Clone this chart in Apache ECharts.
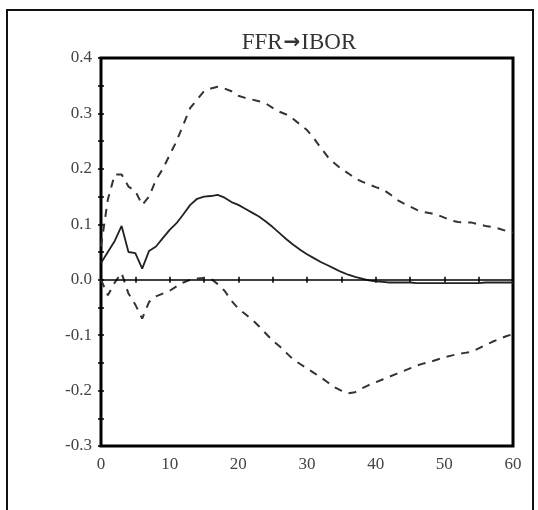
<!DOCTYPE html>
<html>
<head>
<meta charset="utf-8">
<script src="https://cdn.jsdelivr.net/npm/echarts@6/dist/echarts.min.js"></script>
<style>
html,body{margin:0;padding:0;background:#fff;}
#main{width:538px;height:510px;}
</style>
</head>
<body>
<div id="main"></div>
<script>
var titleFrom = 'FFR';
var titleArrow = '\u2192';
var titleTo = 'IBOR';
var horizons = [];
for (var i = 0; i <= 60; i++) horizons.push(i);
var xTicks = [0, 10, 20, 30, 40, 50, 60];
var yTicks = [-0.3, -0.2, -0.1, 0.0, 0.1, 0.2, 0.3, 0.4];

var response = [0.03,0.05,0.07,0.097,0.05,0.048,0.02,0.052,0.06,0.075,
 0.09,0.102,0.118,0.135,0.146,0.15,0.151,0.153,0.148,0.14,
 0.135,0.128,0.121,0.114,0.105,0.095,0.084,0.073,0.063,0.054,
 0.046,0.039,0.032,0.026,0.02,0.014,0.009,0.005,0.002,-0.001,
 -0.003,-0.004,-0.005,-0.005,-0.005,-0.005,-0.006,-0.006,-0.006,-0.006,
 -0.006,-0.006,-0.006,-0.006,-0.006,-0.006,-0.005,-0.005,-0.005,-0.005,-0.005];

var upperBand = [0.06,0.145,0.19,0.19,0.168,0.16,0.135,0.15,0.18,0.2,
 0.225,0.25,0.28,0.31,0.325,0.34,0.345,0.348,0.345,0.34,
 0.332,0.328,0.325,0.322,0.318,0.31,0.303,0.298,0.29,0.28,
 0.27,0.255,0.238,0.222,0.21,0.2,0.192,0.183,0.177,0.172,
 0.167,0.163,0.155,0.145,0.138,0.132,0.126,0.122,0.12,0.117,
 0.112,0.107,0.104,0.103,0.103,0.1,0.097,0.095,0.092,0.088,0.085];

var lowerBand = [0.0,-0.028,-0.005,0.012,-0.025,-0.045,-0.07,-0.04,-0.03,-0.025,
 -0.02,-0.012,-0.005,0.0,0.002,0.003,0.002,-0.008,-0.02,-0.038,
 -0.052,-0.062,-0.072,-0.084,-0.097,-0.11,-0.12,-0.132,-0.144,-0.152,
 -0.16,-0.168,-0.176,-0.185,-0.194,-0.2,-0.205,-0.203,-0.196,-0.19,
 -0.185,-0.18,-0.175,-0.17,-0.165,-0.16,-0.155,-0.151,-0.148,-0.144,
 -0.14,-0.137,-0.134,-0.132,-0.13,-0.124,-0.118,-0.112,-0.107,-0.102,-0.098];

function pairs(arr){ return arr.map(function(v,i){ return [horizons[i], v]; }); }

var chart = echarts.init(document.getElementById('main'), null, {renderer:'canvas'});
var labelFont = {fontFamily:'Liberation Serif', fontSize:17, color:'#444'};
var tickStyle = {show:true, inside:true, length:3, lineStyle:{color:'#000', width:1.5}};
var minorStyle = {show:true, splitNumber:2, length:3, lineStyle:{color:'#000', width:1.5}};

function xAx(pos, showLabel){
  return {type:'value', position:pos, min:0, max:60, interval:10,
    axisLine:{show:false}, axisTick:tickStyle, minorTick:minorStyle,
    splitLine:{show:false},
    axisLabel:Object.assign({show:showLabel, margin:10, formatter:function(v){return xTicks.indexOf(v)>=0?String(v):'';}}, labelFont)};
}
function yAx(pos, showLabel){
  return {type:'value', position:pos, min:-0.3, max:0.4, interval:0.1,
    axisLine:{show:false}, axisTick:tickStyle, minorTick:minorStyle,
    splitLine:{show:false},
    axisLabel:Object.assign({show:showLabel, margin:9, formatter:function(v){return v.toFixed(1);}}, labelFont)};
}

chart.setOption({
  animation:false,
  backgroundColor:'#fff',
  title:{text:'{t|' + titleFrom + '}{a|' + titleArrow + '}{t|' + titleTo + '}', left:294, top:26, textAlign:'center',
    textStyle:{fontWeight:'normal', rich:{
      t:{fontFamily:'Liberation Serif', fontSize:23, fontWeight:'normal', color:'#333'},
      a:{fontFamily:'DejaVu Sans', fontSize:20, fontWeight:'bold', color:'#333', padding:[0,1,0,1]}
    }}},
  grid:{left:101, right:25, top:58, bottom:64, show:true, borderColor:'#000', borderWidth:3, backgroundColor:'transparent'},
  xAxis:[xAx('bottom', true), xAx('top', false)],
  yAxis:[yAx('left', true), yAx('right', false)],
  graphic:[{type:'rect', shape:{x:7, y:10, width:526, height:520}, style:{fill:'none', stroke:'#111', lineWidth:2}, silent:true}],
  series:[
    {type:'line', data:pairs(upperBand), symbol:'none', lineStyle:{color:'#333', width:2, type:[8,7]}},
    {type:'line', data:pairs(lowerBand), symbol:'none', lineStyle:{color:'#333', width:2, type:[8,7]}},
    {type:'line', data:pairs(response), symbol:'none', lineStyle:{color:'#222', width:1.8},
      markLine:{silent:true, symbol:'none', label:{show:false}, lineStyle:{color:'#000', width:1.5, type:'solid'}, data:[{yAxis:0}]}}
  ]
});
</script>
</body>
</html>
